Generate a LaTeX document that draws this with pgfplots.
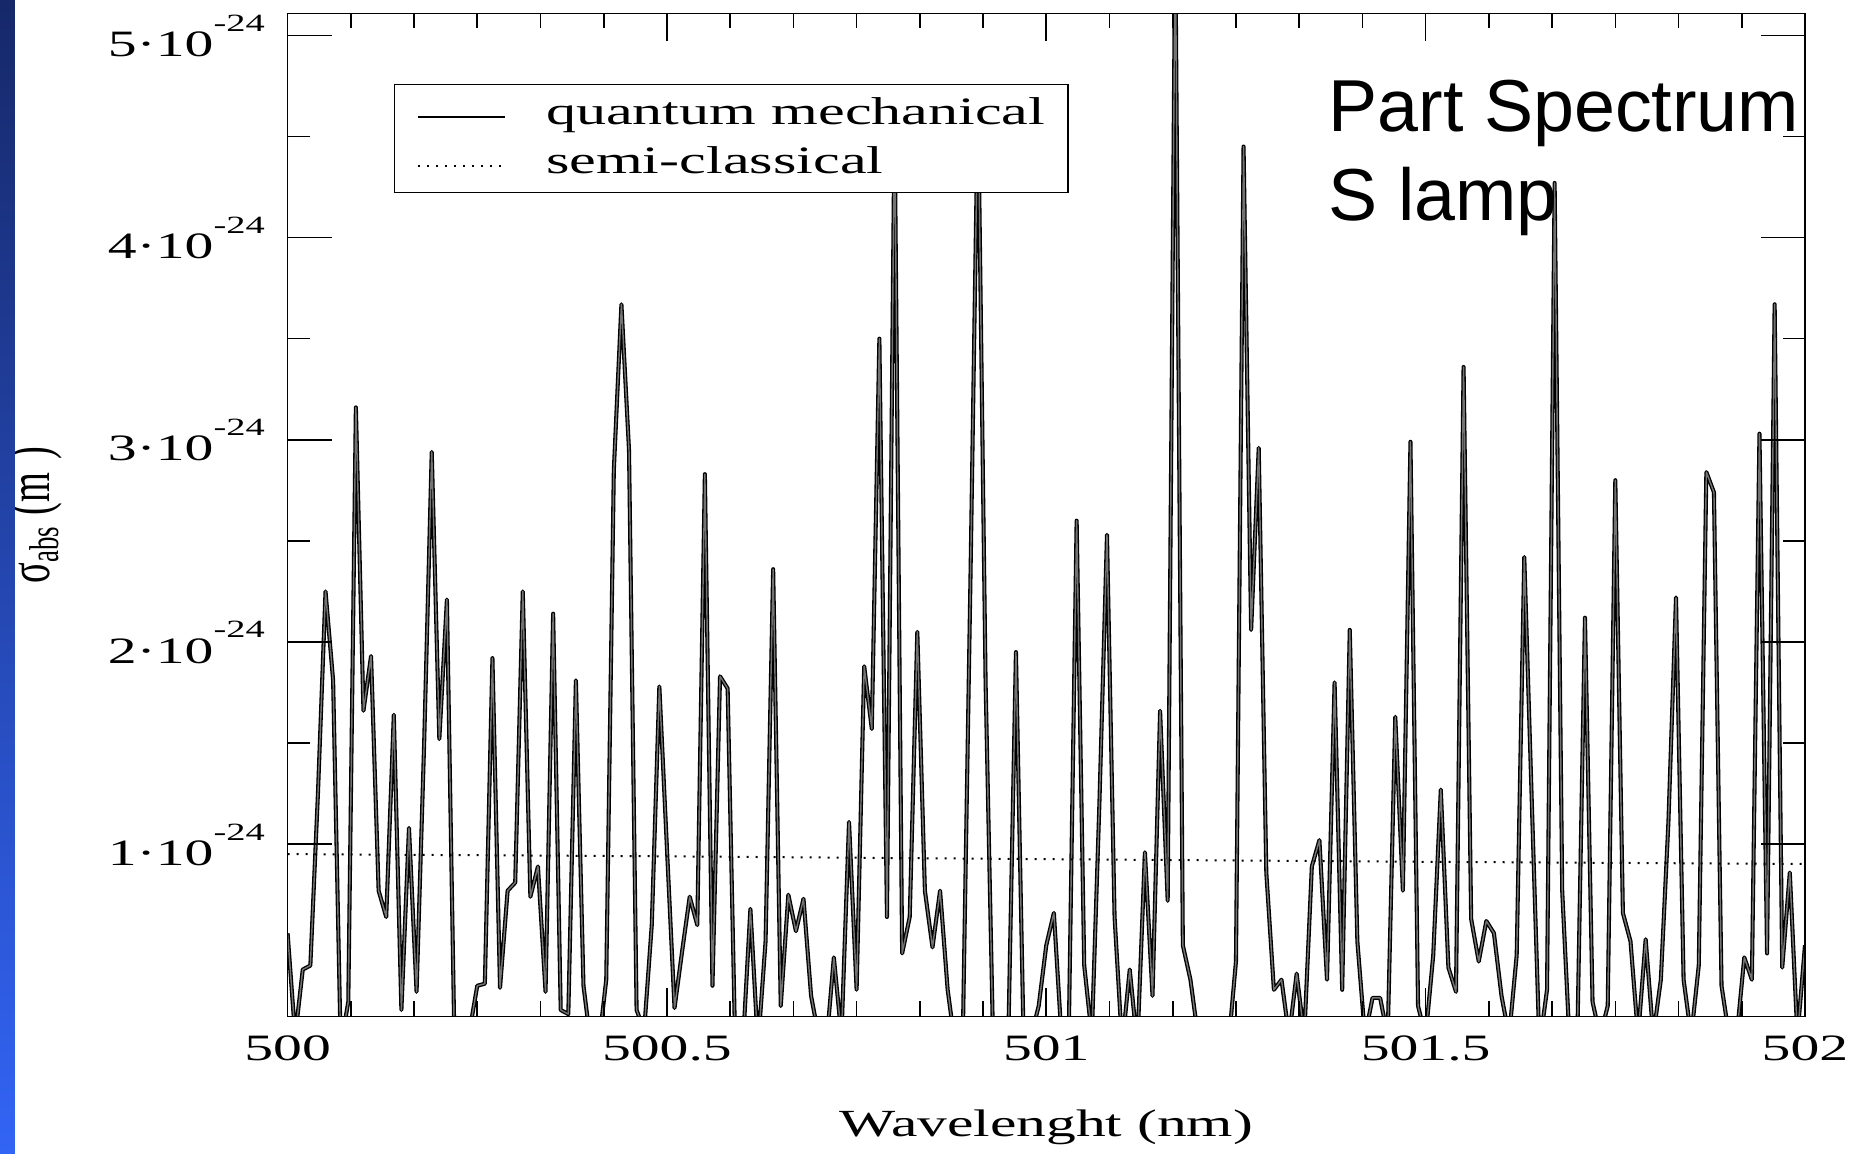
\documentclass[border=0pt]{standalone}
\usepackage{fontspec}
\setmainfont{Liberation Serif}[FakeStretch=1.55]
\newfontfamily\plainserif{Liberation Serif}
\newfontfamily\arialfont{Liberation Sans}
\usepackage{pgfplots}
\usepackage{pgfplotstable}
\pgfplotsset{compat=1.18}
\definecolor{stripTop}{RGB}{22,40,105}
\definecolor{stripBot}{RGB}{50,100,245}
\newcommand{\sciten}[1]{#1·10\raisebox{6.3pt}{\fontsize{6.2}{7}\selectfont -24}}

% wavelength (nm)   sigma_abs (units of 1e-24 m^2)
\pgfplotstableread{
l s
500.00 0.56
500.01 0.05
500.02 0.38
500.03 0.40
500.04 1.25
500.05 2.25
500.06 1.81
500.07 0.00
500.08 0.22
500.09 3.16
500.10 1.66
500.11 1.93
500.12 0.77
500.13 0.64
500.14 1.64
500.15 0.18
500.16 1.08
500.17 0.27
500.18 1.50
500.19 2.94
500.20 1.52
500.21 2.21
500.22 0.00
500.23 0.00
500.24 0.08
500.25 0.30
500.26 0.31
500.27 1.92
500.28 0.29
500.29 0.77
500.30 0.81
500.31 2.25
500.32 0.74
500.33 0.89
500.34 0.27
500.35 2.14
500.36 0.18
500.37 0.16
500.38 1.81
500.39 0.30
500.40 0.00
500.41 0.00
500.42 0.33
500.43 2.85
500.44 3.67
500.45 2.95
500.46 0.18
500.47 0.08
500.48 0.60
500.49 1.78
500.50 0.98
500.51 0.19
500.52 0.47
500.53 0.74
500.54 0.60
500.55 2.83
500.56 0.30
500.57 1.83
500.58 1.77
500.59 0.00
500.60 0.00
500.61 0.68
500.62 0.00
500.63 0.52
500.64 2.36
500.65 0.20
500.66 0.75
500.67 0.57
500.68 0.73
500.69 0.25
500.70 0.05
500.71 0.00
500.72 0.44
500.73 0.05
500.74 1.11
500.75 0.28
500.76 1.88
500.77 1.57
500.78 3.50
500.79 0.64
500.80 4.60
500.81 0.46
500.82 0.64
500.83 2.05
500.84 0.77
500.85 0.49
500.86 0.77
500.87 0.28
500.88 0.00
500.89 0.05
500.90 2.30
500.91 4.70
500.92 1.80
500.93 0.00
500.94 0.00
500.95 0.05
500.96 1.95
500.97 0.05
500.98 0.05
500.99 0.20
501.00 0.50
501.01 0.66
501.02 0.05
501.03 0.15
501.04 2.60
501.05 0.40
501.06 0.05
501.07 1.20
501.08 2.53
501.09 0.64
501.10 0.00
501.11 0.38
501.12 0.00
501.13 0.96
501.14 0.25
501.15 1.66
501.16 0.72
501.17 5.50
501.18 0.50
501.19 0.33
501.20 0.05
501.21 0.00
501.22 0.00
501.23 0.00
501.24 0.00
501.25 0.42
501.26 4.45
501.27 2.06
501.28 2.96
501.29 0.86
501.30 0.28
501.31 0.33
501.32 0.05
501.33 0.36
501.34 0.05
501.35 0.89
501.36 1.02
501.37 0.33
501.38 1.80
501.39 0.28
501.40 2.06
501.41 0.52
501.42 0.05
501.43 0.24
501.44 0.24
501.45 0.05
501.46 1.63
501.47 0.77
501.48 2.99
501.49 0.20
501.50 0.05
501.51 0.45
501.52 1.27
501.53 0.39
501.54 0.27
501.55 3.36
501.56 0.63
501.57 0.42
501.58 0.62
501.59 0.56
501.60 0.25
501.61 0.05
501.62 0.45
501.63 2.42
501.64 1.20
501.65 0.00
501.66 0.28
501.67 4.27
501.68 0.77
501.69 0.00
501.70 0.05
501.71 2.12
501.72 0.22
501.73 0.05
501.74 0.20
501.75 2.80
501.76 0.66
501.77 0.52
501.78 0.05
501.79 0.53
501.80 0.05
501.81 0.33
501.82 1.11
501.83 2.22
501.84 0.33
501.85 0.05
501.86 0.40
501.87 2.84
501.88 2.74
501.89 0.30
501.90 0.05
501.91 0.05
501.92 0.44
501.93 0.33
501.94 3.03
501.95 0.46
501.96 3.67
501.97 0.39
501.98 0.86
501.99 0.05
502.00 0.50
}\qmdata

\pgfplotstableread{
l s
500.0 0.951
500.5 0.940
501.0 0.926
501.5 0.913
502.0 0.902
}\scdata

\begin{document}
\begin{tikzpicture}
\useasboundingbox (-71.9pt,-34.375pt) rectangle (392.1pt,254.125pt);
\fill[white] (-71.9pt,-34.375pt) rectangle (392.1pt,254.125pt);
\begin{axis}[
  at={(0pt,0pt)}, anchor=south west,
  scale only axis, width=379.35pt, height=250.75pt,
  xmin=500, xmax=502, ymin=0.148, ymax=5.108,
  xtick={500,500.5,501,501.5,502},
  xticklabels={500,500.5,501,501.5,502},
  minor x tick num=5,
  ytick={1,2,3,4,5},
  yticklabels={\sciten{1},\sciten{2},\sciten{3},\sciten{4},\sciten{5}},
  minor y tick num=1,
  major tick length=11pt, minor tick length=5.5pt,
  every major x tick/.append style={/pgfplots/major tick length=7pt},
  every minor x tick/.append style={/pgfplots/minor tick length=3.75pt},
  tick style={black, line width=0.4pt},
  axis line style={line width=0.45pt},
  tick label style={font=\fontsize{9.3}{11}\selectfont},
  xticklabel style={anchor=base, inner sep=0pt, yshift=-10.9pt},
  yticklabel style={anchor=base east, inner sep=0pt, xshift=-5.5pt, yshift=-5.3pt},
  xlabel={Wavelenght (nm)},
  every axis x label/.style={at={(axis description cs:0.5,0)}, anchor=base, yshift=-30.05pt, font=\fontsize{9.6}{11}\selectfont},
  ylabel={σ\textsubscript{abs} (m\,\,)},
  every axis y label/.style={at={(axis description cs:-0.1568,0.5)}, rotate=90, yscale=1.55, anchor=base, font=\plainserif\fontsize{9.6}{11}\selectfont},
  legend style={at={(0.0701,0.9297)}, anchor=north west, draw=black, line width=0.35pt, fill=white,
    inner xsep=5.7pt, inner ysep=1.5pt, row sep=0.5pt,
    font=\fontsize{9.7}{11}\selectfont,
    nodes={inner sep=0pt, text height=8.5pt, text depth=3.25pt}},
  legend cell align=left,
  legend image code/.code={\draw[#1] (0pt,-0.6pt) -- (21.6pt,-0.6pt); \path[draw=none] (31.9pt,-0.6pt) circle (0pt);},
  axis on top,
]
\addlegendimage{black, line width=0.45pt}
\addlegendentry{quantum mechanical}
\addlegendimage{black, line width=0.5pt, dash pattern=on 0.5pt off 1.75pt}
\addlegendentry{semi-classical}
\addplot[forget plot, draw=black, line width=0.33pt, double=black!55, double distance=0.36pt, line join=round] table[x=l, y=s] {\qmdata};
\addplot[forget plot, black, line width=0.5pt, dash pattern=on 0.5pt off 1.75pt] table[x=l, y=s] {\scdata};
\end{axis}
\shade[top color=stripTop, bottom color=stripBot] (-71.9pt,-34.375pt) rectangle (-68.15pt,254.125pt);
\node[anchor=base west, inner sep=0pt, font=\arialfont\fontsize{18.4}{22}\selectfont] at (260.1pt,221.3pt) {Part Spectrum};
\node[anchor=base west, inner sep=0pt, font=\arialfont\fontsize{18.4}{22}\selectfont] at (260.1pt,199pt) {S lamp};
\end{tikzpicture}
\end{document}
